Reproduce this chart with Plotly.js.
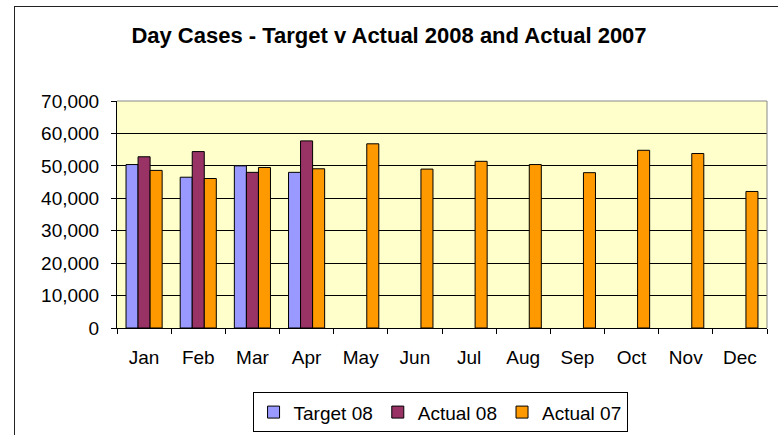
<!DOCTYPE html>
<html><head><meta charset="utf-8">
<script src="https://cdn.plot.ly/plotly-3.0.1.min.js"></script>
<style>
html,body{margin:0;padding:0;background:#fff;overflow:hidden}
#frame{position:absolute;left:14px;top:6px;width:800px;height:500px;border:1px solid #222;box-sizing:border-box}
#chart{position:absolute;left:0;top:0;width:778px;height:435px}
</style></head>
<body>
<div id="frame"></div>
<div id="chart"></div>
<script>
const months = ["Jan","Feb","Mar","Apr","May","Jun","Jul","Aug","Sep","Oct","Nov","Dec"];
const target08 = [50400,46500,50000,48000,null,null,null,null,null,null,null,null];
const actual08 = [52800,54400,48000,57700,null,null,null,null,null,null,null,null];
const actual07 = [48600,46100,49500,49100,56800,49000,51400,50400,47900,54800,53800,42100];

const font = {family:"Liberation Sans, Arial, sans-serif", size:19, color:"#000"};
function tr(name, y, color){
  return {type:"bar", name:name, x:months, y:y,
    marker:{color:color, line:{color:"#000", width:1}},
    hoverinfo:"x+y+name"};
}
const data = [tr("Target 08", target08, "#9999FF"), tr("Actual 08", actual08, "#993366"), tr("Actual 07", actual07, "#FF9900")];
const layout = {
  width:778, height:435,
  margin:{l:117, r:11, t:101, b:107, autoexpand:false},
  paper_bgcolor:"rgba(0,0,0,0)", plot_bgcolor:"#FFFFCC",
  font:font,
  title:{text:"<b>Day Cases - Target v Actual 2008 and Actual 2007</b>", font:{family:"Liberation Sans, Arial, sans-serif", size:22, color:"#000"}, x:0.5, xanchor:"center", y:0.918, yanchor:"middle"},
  barmode:"group", bargap:0.333, bargroupgap:0,
  xaxis:{type:"category", showgrid:false, showline:true, linecolor:"#000", linewidth:1, mirror:false, automargin:false,
    ticks:"outside", ticklen:5, tickcolor:"#000", tickson:"boundaries", ticklabelstandoff:12, tickfont:font, zeroline:false},
  yaxis:{range:[0,70000], dtick:10000, tickformat:",d", showgrid:true, gridcolor:"#000", gridwidth:1, automargin:false,
    showline:true, linecolor:"#000", linewidth:1, ticks:"outside", ticklen:5, tickcolor:"#000", ticklabelstandoff:8, tickfont:font, zeroline:false},
  shapes:[{type:"line", xref:"paper", yref:"paper", x0:0, x1:1, y0:1, y1:1, line:{color:"#888", width:1}},
          {type:"line", xref:"paper", yref:"paper", x0:1, x1:1, y0:0, y1:1, line:{color:"#888", width:1}}],
  showlegend:true,
  legend:{orientation:"h", x:0.497, xanchor:"center", y:-0.283, yanchor:"top", bordercolor:"#000", borderwidth:1,
    bgcolor:"#fff", font:font, itemwidth:30, tracegroupgap:0, itemclick:false}
};
Plotly.newPlot("chart", data, layout, {staticPlot:true, displayModeBar:false});
</script>
</body></html>
